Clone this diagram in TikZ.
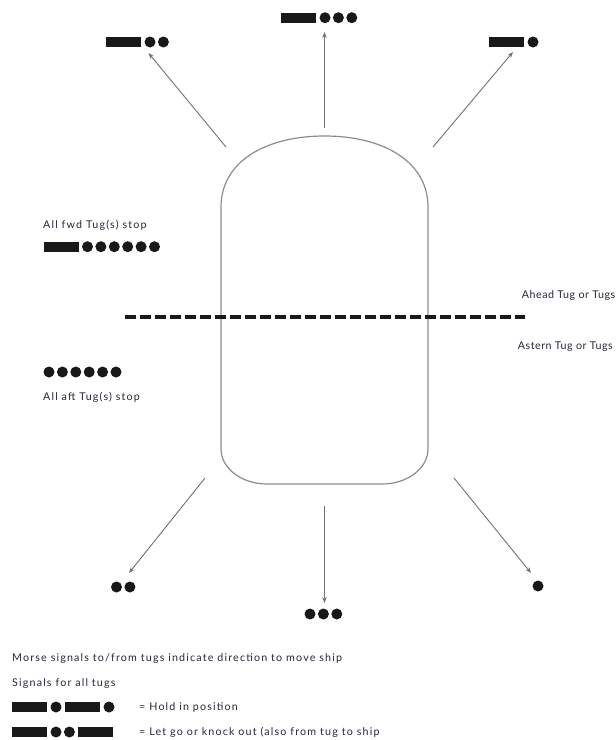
\documentclass[tikz,border=0pt]{standalone}
\usepackage{fontspec}
\setmainfont{Lato}
\newfontfamily\lblfont[LetterSpace = 11]{Lato}
\newfontfamily\sidefont[LetterSpace = 5]{Lato}
\usetikzlibrary{arrows.meta}
\definecolor{linegray}{rgb}{0.45, 0.45, 0.45}
\definecolor{hullgray}{rgb}{0.55, 0.55, 0.55}
\definecolor{txtgray}{rgb}{0.14, 0.16, 0.22}
\definecolor{sigblack}{rgb}{0.1, 0.1, 0.1}
\tikzset{dot/.style = {fill = sigblack, circle, inner sep = 0, minimum size = 11}}
\tikzset{bar/.style = {fill = sigblack, rectangle, inner sep = 0, minimum width = 35, minimum height = 10}}
\tikzset{lbl/.style = {anchor = west, inner sep = 0, text = txtgray, font = \lblfont\fontsize{10.7}{12}\selectfont}}
\tikzset{sidelbl/.style = {anchor = east, inner sep = 0, text = txtgray, font = \sidefont\fontsize{10.7}{12}\selectfont}}
\tikzset{move/.style = {draw = linegray, line width = 0.9, -{Stealth[length = 6, width = 4.5, fill = sigblack]}}}

\begin{document}
\begin{tikzpicture}[x = 1pt, y = -1pt]
      \useasboundingbox (0, 0) rectangle (616, 740);
      \fill [white] (0, 0) rectangle (616, 740);

      % ship
      \draw [hullgray, line width = 1.2] (221, 207) .. controls (221, 162) and (265, 136) .. (324.5, 136)
            .. controls (384, 136) and (428, 162) .. (428, 207) -- (428, 449)
            arc (0:90:46 and 35) -- (267, 484) arc (90:180:46 and 35) -- cycle;

      \coordinate (dl) at (125, 317);
      \coordinate (dr) at (525, 317);
      \draw [line width = 3.5, sigblack, dash pattern = on 11 off 4] (dl) -- (dr);

      % ahead signals
      \node [bar] (nBar) at (298.5, 17.7) {};
      \foreach \i in {1, 2, 3}
            \node [dot] (nDot\i) at (311.6 + 13.4*\i, 17.7) {};

      \node [bar] (nwBar) at (123, 42) {};
      \foreach \i in {1, 2}
            \node [dot] (nwDot\i) at (136.6 + 13.4*\i, 42) {};

      \node [bar] (neBar) at (506.5, 42) {};
      \node [dot] (neDot) at (533, 42) {};

      % astern signals
      \foreach \i in {1, 2}
            \node [dot] (swDot\i) at (103.1 + 13.4*\i, 587) {};
      \foreach \i in {1, 2, 3}
            \node [dot] (sDot\i) at (296.6 + 13.4*\i, 614) {};
      \node [dot] (seDot) at (538, 586) {};

      % arrows
      \coordinate (nFrom) at (324.5, 128);
      \coordinate (nTo) at (324.5, 32);
      \coordinate (nwFrom) at (226, 147);
      \coordinate (nwTo) at (148.5, 53);
      \coordinate (neFrom) at (433, 147);
      \coordinate (neTo) at (513, 52);
      \coordinate (swFrom) at (205, 478);
      \coordinate (swTo) at (129, 573);
      \coordinate (sFrom) at (324.5, 506);
      \coordinate (sTo) at (324.5, 603);
      \coordinate (seFrom) at (454, 478);
      \coordinate (seTo) at (531, 573);
      \draw [move] (nFrom) -- (nTo);
      \draw [move] (nwFrom) -- (nwTo);
      \draw [move] (neFrom) -- (neTo);
      \draw [move] (swFrom) -- (swTo);
      \draw [move] (sFrom) -- (sTo);
      \draw [move] (seFrom) -- (seTo);

      % stop signals
      \node [lbl] (fwdTxt) at (43, 225) {All fwd Tug(s) stop};
      \node [bar] (fwdBar) at (61, 246.7) {};
      \foreach \i in {1, ..., 6}
            \node [dot] (fwdDot\i) at (74.1 + 13.4*\i, 246.7) {};

      \foreach \i in {1, ..., 6}
            \node [dot] (aftDot\i) at (35.6 + 13.4*\i, 372) {};
      \node [lbl] (aftTxt) at (43, 397) {All aft Tug(s) stop};

      \node [sidelbl] (aheadTxt) at (615.5, 296) {Ahead Tug or Tugs};
      \node [sidelbl] (asternTxt) at (613, 347) {Astern Tug or Tugs};

      % key
      \node [lbl] (morseTxt) at (12, 659) {Morse signals to/from tugs indicate direction to move ship};
      \node [lbl] (allTxt) at (12, 684) {Signals for all tugs};

      \node [bar] (holdBar1) at (29.5, 707) {};
      \node [dot] (holdDot1) at (56, 707) {};
      \node [bar] (holdBar2) at (82.5, 707) {};
      \node [dot] (holdDot2) at (109, 707) {};
      \node [lbl] (holdTxt) at (139, 707) {= Hold in position};

      \node [bar] (goBar1) at (29.5, 732) {};
      \node [dot] (goDot1) at (56, 732) {};
      \node [dot] (goDot2) at (69.4, 732) {};
      \node [bar] (goBar2) at (95.9, 732) {};
      \node [lbl] (goTxt) at (139, 732) {= Let go or knock out (also from tug to ship};
    \end{tikzpicture}
\end{document}
